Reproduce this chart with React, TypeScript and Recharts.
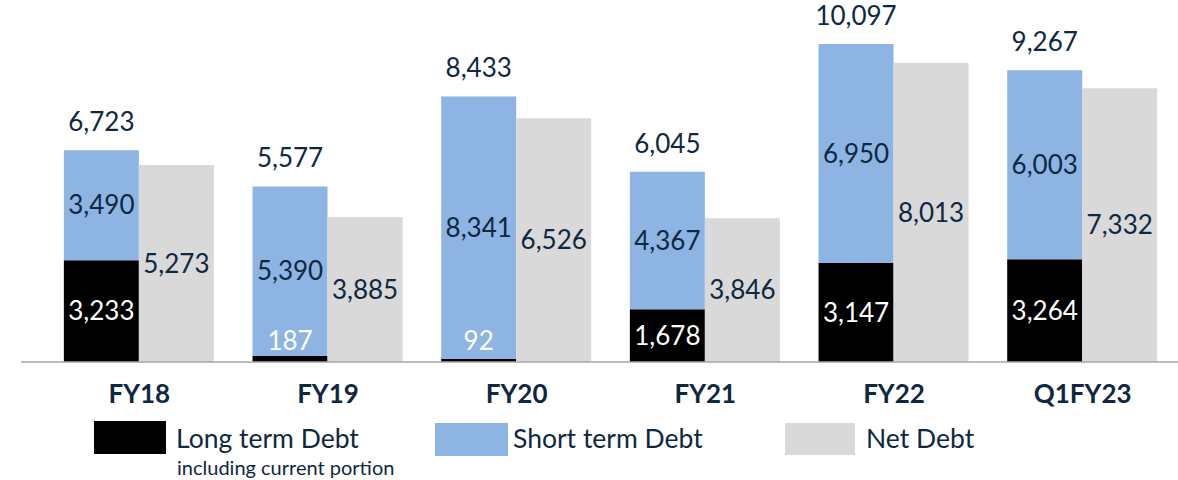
import React from 'react';
import { BarChart, Bar, XAxis, YAxis, LabelList } from 'recharts';

const categories = ['FY18', 'FY19', 'FY20', 'FY21', 'FY22', 'Q1FY23'];
const longTermDebt = [3233, 187, 92, 1678, 3147, 3264];
const shortTermDebt = [3490, 5390, 8341, 4367, 6950, 6003];
const netDebt = [5273, 3885, 6526, 3846, 8013, 7332];

const data = categories.map((name, i) => ({
  name,
  longTerm: longTermDebt[i],
  shortTerm: shortTermDebt[i],
  total: longTermDebt[i] + shortTermDebt[i],
  net: netDebt[i],
}));

const NAVY = '#0e2841';
const BLUE = '#8eb4e3';
const GREY = '#d9d9d9';
const FONT = 'Lato, "Open Sans", sans-serif';

const fmt = (v: any) => Number(v).toLocaleString('en-US');

const centerLabel = (color: string) => (props: any) => {
  const x = Number(props.x);
  const y = Number(props.y);
  const w = Number(props.width);
  const h = Number(props.height);
  const cy = Math.min(y + h / 2, y + h - 21);
  return (
    <text x={x + w / 2} y={cy} dy="0.355em" textAnchor="middle" fill={color} fontSize={26} fontFamily={FONT}>
      {fmt(props.value)}
    </text>
  );
};

const topLabel = (props: any) => {
  const x = Number(props.x);
  const y = Number(props.y);
  const w = Number(props.width);
  return (
    <text x={x + w / 2} y={y - 19} textAnchor="middle" fill={NAVY} fontSize={26} fontFamily={FONT}>
      {fmt(props.value)}
    </text>
  );
};

const legendText: React.CSSProperties = { position: 'absolute', fontFamily: FONT, color: NAVY, fontSize: 26, lineHeight: '26px', whiteSpace: 'nowrap' };

export default function App() {
  return (
    <div style={{ position: 'fixed', left: 0, top: 0, width: 1178, height: 480, background: '#fff', overflow: 'hidden' }}>
      <BarChart
        width={1178}
        height={480}
        data={data}
        margin={{ top: 10, right: 0, left: 21, bottom: 78 }}
        barCategoryGap="10%"
        barGap={0}
      >
        <XAxis
          dataKey="name"
          height={40}
          padding={{ left: 24, right: 1 }}
          axisLine={{ stroke: '#a6a6a6', strokeWidth: 1.5 }}
          tickLine={false}
          tickMargin={17}
          tick={{ fill: NAVY, fontSize: 26, fontWeight: 700, fontFamily: FONT }}
          interval={0}
        />
        <YAxis yAxisId="left" hide domain={[0, 11180]} />
        <YAxis yAxisId="right" hide domain={[0, 9424]} orientation="right" />
        <Bar dataKey="longTerm" stackId="debt" yAxisId="left" fill="#000000" isAnimationActive={false}>
          <LabelList dataKey="longTerm" content={centerLabel('#ffffff')} />
        </Bar>
        <Bar dataKey="shortTerm" stackId="debt" yAxisId="left" fill={BLUE} isAnimationActive={false}>
          <LabelList dataKey="shortTerm" content={centerLabel(NAVY)} />
          <LabelList dataKey="total" content={topLabel} />
        </Bar>
        <Bar dataKey="net" yAxisId="right" fill={GREY} isAnimationActive={false}>
          <LabelList dataKey="net" content={centerLabel(NAVY)} />
        </Bar>
      </BarChart>

      <div style={{ position: 'absolute', left: 94, top: 421, width: 72, height: 33, background: '#000' }} />
      <div style={{ ...legendText, left: 176, top: 425, fontSize: 26.5 }}>Long term Debt</div>
      <div style={{ ...legendText, left: 177, top: 457, fontSize: 20, lineHeight: '20px' }}>including current portion</div>

      <div style={{ position: 'absolute', left: 435, top: 423, width: 73, height: 33, background: BLUE }} />
      <div style={{ ...legendText, left: 513, top: 425, fontSize: 26.5 }}>Short term Debt</div>

      <div style={{ position: 'absolute', left: 785, top: 423, width: 70, height: 32, background: GREY }} />
      <div style={{ ...legendText, left: 866, top: 425, fontSize: 26.5 }}>Net Debt</div>
    </div>
  );
}
